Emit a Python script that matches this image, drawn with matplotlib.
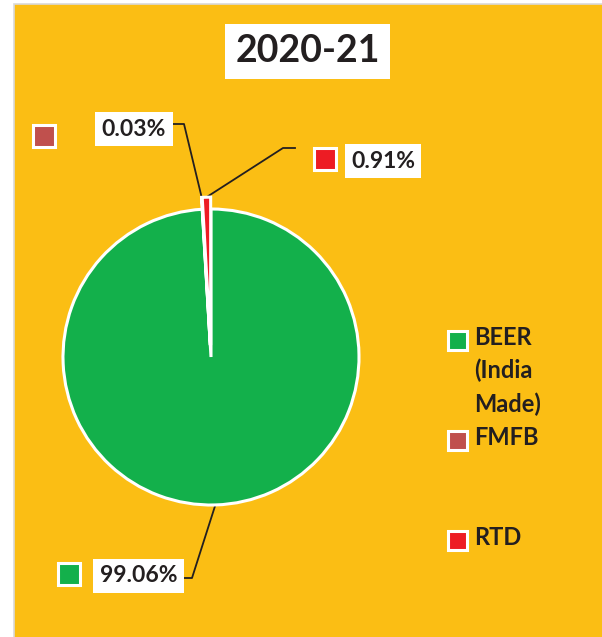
import numpy as np
import matplotlib
matplotlib.use("Agg")
import matplotlib.pyplot as plt
from matplotlib.patches import Rectangle

plt.rcParams['font.family'] = ['Lato', 'DejaVu Sans']

# data
title = "2020-21"
categories = ["BEER\n(India\nMade)", "FMFB", "RTD"]
shares = [99.06, 0.03, 0.91]
slice_colors = ["#13B04B", "#C0504D", "#ED1C24"]
explode = [0.0, 0.08, 0.08]

W, H = 602, 637
BG = "#FBBE14"
INK = "#231F20"

fig = plt.figure(figsize=(W / 100, H / 100), dpi=100)
fig.patch.set_facecolor("white")

# pixel-space canvas for panel, labels and legend
ax_bg = fig.add_axes([0, 0, 1, 1])
ax_bg.set_xlim(0, W)
ax_bg.set_ylim(H, 0)
ax_bg.axis("off")
ax_bg.add_patch(Rectangle((14, 4), W, H, facecolor=BG,
                          edgecolor="#D9D9D9", linewidth=1.2, zorder=0))

# pie placement
cx, cy, R = 211, 357, 148
ax = fig.add_axes([(cx - R) / W, (H - cy - R) / H, 2 * R / W, 2 * R / H])
wedges, _ = ax.pie(shares, colors=slice_colors, startangle=90, counterclock=False,
                   explode=explode,
                   wedgeprops=dict(edgecolor="white", linewidth=2.2))
for w in wedges:
    w.set_clip_on(False)
ax.set_xlim(-1, 1)
ax.set_ylim(-1, 1)
ax.axis("off")

# title
ax_bg.text(307.5, 51, title, ha="center", va="center", fontsize=27,
           fontweight="bold", color=INK,
           bbox=dict(boxstyle="square,pad=0.28", facecolor="white", edgecolor="none"))

# data labels: text centre, marker position, leader elbow, leader end
label_layout = [
    dict(text=(138.5, 576), marker=(58, 563), elbow=(192, 578), end=(180, 578)),
    dict(text=(134, 129), marker=(33, 125), elbow=(184, 124), end=(173, 124)),
    dict(text=(383, 161), marker=(314, 148), elbow=(283, 148), end=(295, 148)),
]

for i, (w, share, col, lay) in enumerate(zip(wedges, shares, slice_colors, label_layout)):
    mid = np.deg2rad((w.theta1 + w.theta2) / 2)
    r = R * (1 + explode[i])
    ax_x = cx + r * np.cos(mid)
    ax_y = cy - r * np.sin(mid)
    ex, ey = lay["elbow"]
    fx, fy = lay["end"]
    ax_bg.plot([ax_x, ex, fx], [ax_y, ey, fy], color=INK, linewidth=1.3, zorder=2)
    tx, ty = lay["text"]
    ax_bg.text(tx, ty, f"{share:.2f}%", ha="center", va="center", fontsize=16.5,
               fontweight="bold", color=INK, zorder=3,
               bbox=dict(boxstyle="square,pad=0.28", facecolor="white", edgecolor="none"))
    mx, my = lay["marker"]
    ax_bg.add_patch(Rectangle((mx, my), 22, 22, facecolor=col, edgecolor="white",
                              linewidth=2.2, zorder=3))

# legend
legend_y = [340, 440, 540]
for cat, col, ly in zip(categories, slice_colors, legend_y):
    ax_bg.add_patch(Rectangle((448, ly - 9.5), 19, 19, facecolor=col, edgecolor="white",
                              linewidth=2.2, zorder=3))
    ax_bg.text(474, ly - 14, cat, ha="left", va="top", fontsize=17,
               fontweight="bold", color=INK, linespacing=1.5)

fig.savefig("out.png", dpi=100, facecolor="white")
